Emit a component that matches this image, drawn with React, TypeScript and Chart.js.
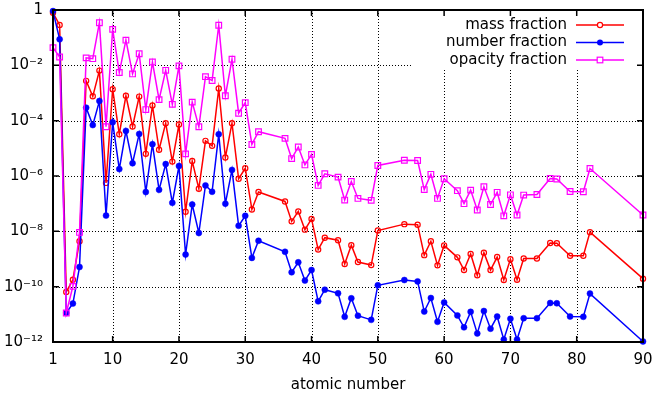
import React, { useEffect, useRef } from 'react';
import { Chart, registerables } from 'chart.js';

Chart.register(...registerables);

// ---- data (y values are log10 of the fraction) ----
const atomicNumbers = [
  1, 2, 3, 4, 5, 6, 7, 8, 9, 10, 11, 12, 13, 14, 15, 16, 17, 18, 19, 20,
  21, 22, 23, 24, 25, 26, 27, 28, 29, 30, 31, 32, 36, 37, 38, 39, 40, 41, 42, 44,
  45, 46, 47, 49, 50, 54, 56, 57, 58, 59, 60, 62, 63, 64, 65, 66, 67, 68, 69, 70,
  71, 72, 74, 76, 77, 79, 81, 82, 90,
];

const massFractionLog10 = [
  -0.10, -0.54, -10.19, -9.75, -8.36, -2.56, -3.12, -2.19, -6.25, -2.86,
  -4.49, -3.10, -4.21, -3.13, -5.20, -3.45, -5.05, -4.09, -5.48, -4.14,
  -7.29, -5.46, -6.46, -4.73, -4.91, -2.84, -5.33, -4.09, -6.10, -5.72,
  -7.21, -6.58, -6.92, -7.64, -7.28, -7.94, -7.55, -8.66, -8.23, -8.32,
  -9.18, -8.50, -9.11, -9.22, -7.97, -7.74, -7.76, -8.86, -8.36, -9.23,
  -8.51, -8.94, -9.40, -8.82, -9.59, -8.77, -9.40, -8.93, -9.76, -9.01,
  -9.75, -8.98, -8.98, -8.42, -8.43, -8.88, -8.88, -8.03, -9.71,
];

const numberFractionLog10 = [
  -0.04, -1.06, -10.95, -10.61, -9.29, -3.53, -4.16, -3.29, -7.43, -4.06,
  -5.75, -4.37, -5.54, -4.48, -6.58, -4.85, -6.50, -5.57, -6.97, -5.64,
  -8.84, -7.03, -8.06, -6.34, -6.57, -4.49, -7.00, -5.78, -7.80, -7.44,
  -8.96, -8.34, -8.74, -9.48, -9.12, -9.78, -9.40, -10.53, -10.11, -10.24,
  -11.09, -10.42, -11.05, -11.20, -9.95, -9.76, -9.81, -10.90, -10.41, -11.27,
  -10.57, -11.04, -11.47, -10.91, -11.69, -10.88, -11.52, -11.08, -11.91, -11.16,
  -11.91, -11.14, -11.14, -10.59, -10.60, -11.08, -11.09, -10.25, -11.98,
];

const opacityFractionLog10 = [
  -1.36, -1.70, -10.95, -9.99, -8.04, -1.73, -1.76, -0.46, -4.22, -0.70,
  -2.26, -1.09, -2.31, -1.58, -3.60, -1.88, -3.24, -2.18, -3.41, -2.02,
  -5.20, -3.33, -4.22, -2.41, -2.55, -0.55, -3.10, -1.78, -3.73, -3.35,
  -4.86, -4.40, -4.64, -5.37, -4.95, -5.60, -5.22, -6.34, -5.92, -6.04,
  -6.87, -6.20, -6.81, -6.88, -5.62, -5.43, -5.44, -6.49, -5.94, -6.81,
  -6.10, -6.53, -7.00, -6.51, -7.23, -6.39, -7.03, -6.59, -7.44, -6.68,
  -7.41, -6.69, -6.67, -6.09, -6.11, -6.56, -6.57, -5.73, -7.41,
];

const xTickValues = [1, 10, 20, 30, 40, 50, 60, 70, 80, 90];
const yTickExponents = [0, -2, -4, -6, -8, -10, -12];
const seriesLabels = ['mass fraction', 'number fraction', 'opacity fraction'];
const seriesColors = ['#ff0000', '#0000ff', '#ff00ff'];
const xAxisTitle = 'atomic number';

const FONT = "'DejaVu Sans', sans-serif";
const SUP: Record<string, string> = {
  '-': '\u207B', '0': '\u2070', '1': '\u00B9', '2': '\u00B2', '3': '\u00B3',
  '4': '\u2074', '5': '\u2075', '6': '\u2076', '7': '\u2077', '8': '\u2078', '9': '\u2079',
};
const yLabel = (e: number) =>
  e === 0 ? '1' : '10' + String(e).split('').map((c) => SUP[c] || c).join('');
const pow10 = (e: number) => Number('1e' + e);

const toPoints = (logs: number[]) =>
  atomicNumbers.map((z, i) => ({ x: z, y: Math.pow(10, logs[i]) }));

const framePlugin = {
  id: 'gnuFrame',
  beforeDatasetsDraw(chart: any) {
    const { ctx, chartArea, scales } = chart;
    const { left, right, top, bottom } = chartArea;
    const x = scales.x;
    const y = scales.y;
    ctx.save();
    ctx.strokeStyle = '#000';
    ctx.lineWidth = 1;
    ctx.setLineDash([1, 2]);
    xTickValues.forEach((v) => {
      if (v === 1 || v === 90) return;
      const px = Math.round(x.getPixelForValue(v)) + 0.5;
      ctx.beginPath();
      ctx.moveTo(px, top);
      ctx.lineTo(px, bottom);
      ctx.stroke();
    });
    yTickExponents.forEach((e) => {
      if (e === 0 || e === -12) return;
      const py = Math.round(y.getPixelForValue(pow10(e))) + 0.5;
      ctx.beginPath();
      ctx.moveTo(left, py);
      ctx.lineTo(right, py);
      ctx.stroke();
    });
    ctx.setLineDash([]);
    // opaque key box
    ctx.fillStyle = '#ffffff';
    ctx.fillRect(right - 231, top, 231, 59);
    ctx.restore();
  },
  afterDatasetsDraw(chart: any) {
    const { ctx, chartArea, scales } = chart;
    const { left, right, top, bottom } = chartArea;
    const x = scales.x;
    const y = scales.y;
    ctx.save();
    ctx.strokeStyle = '#000';
    ctx.lineWidth = 1.5;
    const tl = 6;
    xTickValues.forEach((v) => {
      const px = x.getPixelForValue(v);
      ctx.beginPath();
      ctx.moveTo(px, bottom);
      ctx.lineTo(px, bottom - tl);
      ctx.moveTo(px, top);
      ctx.lineTo(px, top + tl);
      ctx.stroke();
    });
    yTickExponents.forEach((e) => {
      const py = y.getPixelForValue(pow10(e));
      ctx.beginPath();
      ctx.moveTo(left, py);
      ctx.lineTo(left + tl, py);
      ctx.moveTo(right, py);
      ctx.lineTo(right - tl, py);
      ctx.stroke();
    });
    ctx.lineWidth = 2;
    ctx.strokeRect(left, top, right - left, bottom - top);
    ctx.restore();
  },
  afterDraw(chart: any) {
    const { ctx, chartArea } = chart;
    const { left, right, top, bottom } = chartArea;
    ctx.save();
    ctx.font = `15px ${FONT}`;
    ctx.fillStyle = '#000';
    ctx.textBaseline = 'middle';
    // key
    seriesLabels.forEach((label, i) => {
      const ry = top + 15 + i * 17.5;
      ctx.textAlign = 'right';
      ctx.fillStyle = '#000';
      ctx.fillText(label, right - 76, ry);
      ctx.strokeStyle = seriesColors[i];
      ctx.lineWidth = 1.5;
      ctx.beginPath();
      ctx.moveTo(right - 67, ry);
      ctx.lineTo(right - 19, ry);
      ctx.stroke();
      const mx = right - 43;
      ctx.lineWidth = 1.2;
      if (i === 0) {
        ctx.beginPath();
        ctx.arc(mx, ry, 2.6, 0, Math.PI * 2);
        ctx.fillStyle = '#fff';
        ctx.fill();
        ctx.stroke();
      } else if (i === 1) {
        ctx.beginPath();
        ctx.arc(mx, ry, 3, 0, Math.PI * 2);
        ctx.fillStyle = seriesColors[i];
        ctx.fill();
      } else {
        ctx.fillStyle = '#fff';
        ctx.fillRect(mx - 2.8, ry - 2.8, 5.6, 5.6);
        ctx.strokeRect(mx - 2.8, ry - 2.8, 5.6, 5.6);
      }
    });
    // x axis title
    ctx.fillStyle = '#000';
    ctx.textAlign = 'center';
    ctx.fillText(xAxisTitle, (left + right) / 2, bottom + 43);
    ctx.restore();
  },
};

const zeroScalePadding = (s: any) => {
  s.paddingTop = 0;
  s.paddingBottom = 0;
  s.paddingLeft = 0;
  s.paddingRight = 0;
};

export default function App() {
  const canvasRef = useRef<HTMLCanvasElement | null>(null);

  useEffect(() => {
    if (!canvasRef.current) return;
    const chart = new Chart(canvasRef.current, {
      type: 'line',
      data: {
        datasets: [
          {
            label: seriesLabels[2],
            data: toPoints(opacityFractionLog10),
            borderColor: seriesColors[2],
            backgroundColor: 'rgba(0,0,0,0)',
            borderWidth: 1.5,
            pointStyle: 'rect',
            pointRadius: 4,
            pointBorderWidth: 1.2,
            pointBorderColor: seriesColors[2],
            pointBackgroundColor: 'rgba(0,0,0,0)',
            tension: 0,
            clip: false as any,
          },
          {
            label: seriesLabels[1],
            data: toPoints(numberFractionLog10),
            borderColor: seriesColors[1],
            backgroundColor: seriesColors[1],
            borderWidth: 1.5,
            pointStyle: 'circle',
            pointRadius: 3,
            pointBorderWidth: 0.5,
            pointBorderColor: seriesColors[1],
            pointBackgroundColor: seriesColors[1],
            tension: 0,
            clip: false as any,
          },
          {
            label: seriesLabels[0],
            data: toPoints(massFractionLog10),
            borderColor: seriesColors[0],
            backgroundColor: 'rgba(0,0,0,0)',
            borderWidth: 1.5,
            pointStyle: 'circle',
            pointRadius: 2.6,
            pointBorderWidth: 1.2,
            pointBorderColor: seriesColors[0],
            pointBackgroundColor: 'rgba(0,0,0,0)',
            tension: 0,
            clip: false as any,
          },
        ],
      },
      options: {
        animation: false,
        responsive: false,
        events: [],
        layout: { padding: { left: 0, right: 10, top: 10, bottom: 0 } },
        plugins: {
          legend: { display: false },
          tooltip: { enabled: false },
        },
        scales: {
          x: {
            type: 'linear',
            min: 1,
            max: 90,
            afterBuildTicks: (s: any) => {
              s.ticks = xTickValues.map((v) => ({ value: v }));
            },
            afterFit: (s: any) => {
              s.height = 58;
              zeroScalePadding(s);
            },
            grid: { display: false, drawTicks: false },
            border: { display: false },
            ticks: {
              color: '#000',
              font: { family: FONT, size: 15 },
              padding: 9,
              maxRotation: 0,
              autoSkip: false,
              callback: (v: any) => String(v),
            },
          },
          y: {
            type: 'logarithmic',
            min: 1e-12,
            max: 1,
            afterBuildTicks: (s: any) => {
              s.ticks = yTickExponents.map((e) => ({ value: pow10(e) }));
            },
            afterFit: (s: any) => {
              s.width = 53;
              zeroScalePadding(s);
            },
            grid: { display: false, drawTicks: false },
            border: { display: false },
            ticks: {
              color: '#000',
              font: { family: FONT, size: 15 },
              padding: 10,
              autoSkip: false,
              callback: (v: any) => yLabel(Math.round(Math.log10(Number(v)))),
            },
          },
        },
      },
      plugins: [framePlugin],
    } as any);
    return () => chart.destroy();
  }, []);

  return (
    <div style={{ position: 'absolute', left: 0, top: 0, width: 653, height: 400 }}>
      <canvas ref={canvasRef} width={653} height={400} />
    </div>
  );
}
